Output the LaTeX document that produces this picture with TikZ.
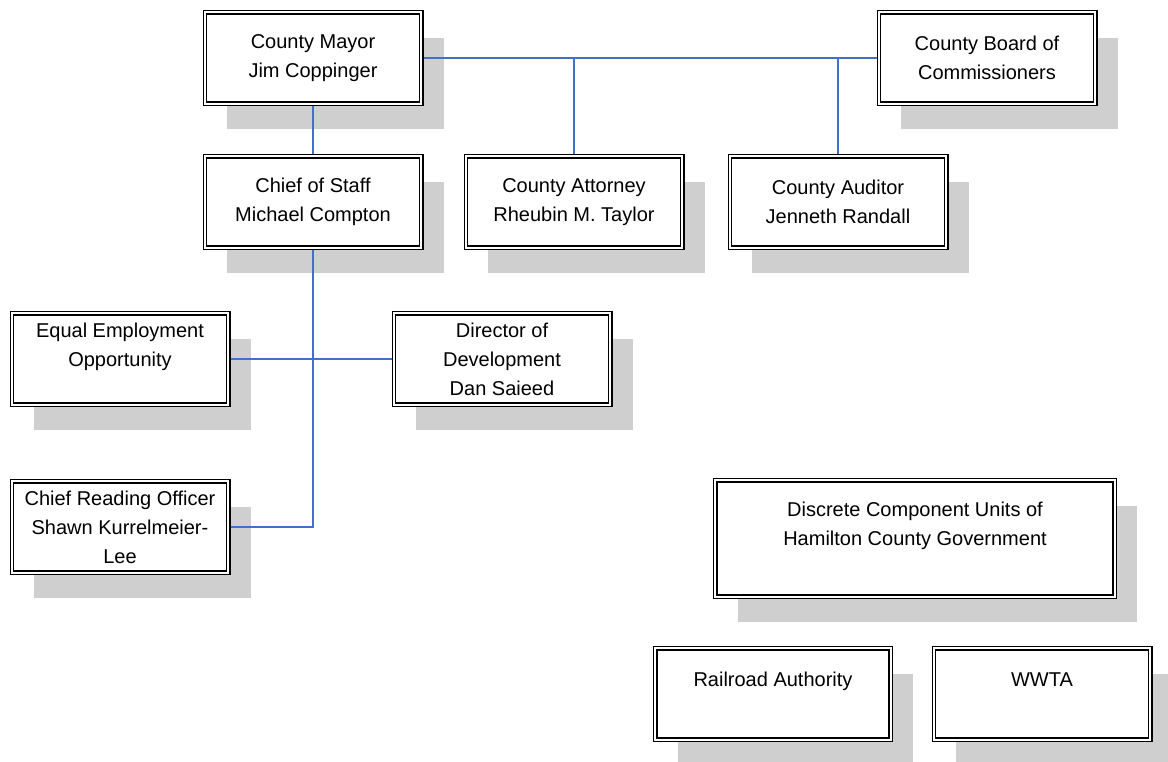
\documentclass[tikz,border=0pt]{standalone}
\usepackage{fontspec}
\setmainfont{Liberation Sans}
\usetikzlibrary{shadows}
\definecolor{shadowgray}{RGB}{207,207,207}
\definecolor{linkblue}{RGB}{64,112,200}

\begin{document}
\begin{tikzpicture}[x=1pt,y=-1pt]
\useasboundingbox (0,0) rectangle (1168,761);
\tikzstyle{unit}=[rectangle, draw=black, line width=1.3pt, double=white, double distance=2pt,
                  fill=white, outer sep=2.3pt, inner sep=0pt, align=center,
                  minimum width=216.4pt, minimum height=91.4pt,
                  font=\fontsize{20}{29}\selectfont,
                  drop shadow={shadow xshift=22.3pt, shadow yshift=-25.3pt, fill=shadowgray, opacity=1}]
\tikzstyle{link}=[draw=linkblue, line width=2pt]
\node[unit](mayor) at (313,58){County Mayor\\Jim Coppinger};
\node[unit](board) at (987,58){County Board of\\Commissioners};
\node[unit](staff) at (313,202){Chief of Staff\\Michael Compton};
\node[unit](attorney) at (574,202){County Attorney\\Rheubin M. Taylor};
\node[unit](auditor) at (838,202){County Auditor\\Jenneth Randall};
\node[unit](eeo) at (120,359){Equal Employment\\Opportunity\\ \mbox{}};
\node[unit](devdir) at (502,359){Director of\\Development\\Dan Saieed};
\node[unit](reading) at (120,527){Chief Reading Officer\\Shawn Kurrelmeier-\\Lee};
\node[unit, minimum width=399.4pt, minimum height=116.4pt](discrete) at (915,538.5){Discrete Component Units of\\Hamilton County Government\\ \mbox{}};
\node[unit, minimum width=235.4pt](railroad) at (773,694){Railroad Authority\\ \mbox{}};
\node[unit](wwta) at (1042,694){WWTA\\ \mbox{}};
\foreach \i/\j in {mayor/board,mayor/staff,eeo/devdir}{\draw[link] (\i) -- (\j);}
\foreach \i in {attorney,auditor}{\draw[link] (\i) -- (\i |- mayor);}
\draw[link] (staff) |- (reading);
\end{tikzpicture}
\end{document}
